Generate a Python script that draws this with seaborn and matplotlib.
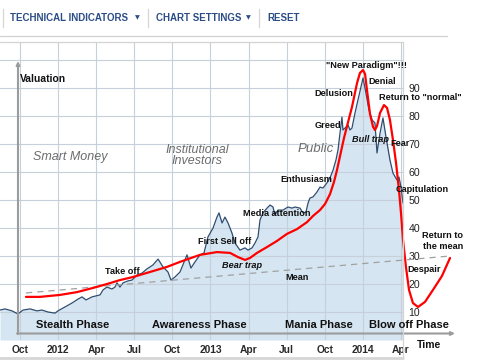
import matplotlib
matplotlib.use("Agg")
import matplotlib.pyplot as plt
from matplotlib.lines import Line2D
import numpy as np
import pandas as pd
import seaborn as sns

# ---------------- data (x = months since Oct 2011, y = valuation) ----------------
price_month = [-1.57, -1.18, -0.63, -0.16, 0.24, 0.79, 1.34, 1.73, 2.20, 2.76, 2.99, 3.54,
               4.09, 4.57, 4.88, 5.20, 5.67, 6.30, 6.54, 6.85, 7.24, 7.48, 7.64, 7.87,
               8.11, 8.50, 8.82, 9.21, 9.61, 10.0, 10.47, 10.87, 11.26, 11.65, 11.89, 12.20,
               12.60, 13.15, 13.46, 13.78, 14.17, 14.49, 14.80, 15.20, 15.51, 15.67, 15.91, 16.14,
               16.38, 16.69, 16.93, 17.32, 17.72, 17.95, 18.27, 18.50, 18.74, 18.90, 19.13, 19.45,
               19.69, 19.92, 20.08, 20.31, 20.71, 21.10, 21.42, 21.65, 22.05, 22.28, 22.52, 22.68,
               22.83, 23.07, 23.39, 23.62, 23.86, 24.17, 24.41, 24.65, 24.88, 25.04, 25.20, 25.35,
               25.43, 25.59, 25.83, 25.98, 26.14, 26.38, 26.61, 27.01, 27.24, 27.48, 27.72, 27.95,
               28.11, 28.35, 28.58, 28.82, 29.13, 29.37, 29.69, 29.84, 30.0, 30.16]
price_value = [10.7, 11.1, 10.4, 9.3, 10.7, 11.1, 10.4, 10.7, 10.0, 9.6, 10.4, 11.8,
               13.2, 14.6, 15.4, 14.3, 15.4, 16.1, 17.9, 18.9, 18.2, 18.9, 20.4, 18.9,
               20.4, 21.1, 21.4, 23.2, 23.9, 25.4, 26.8, 28.9, 26.1, 24.3, 21.4, 22.5,
               24.3, 30.4, 25.7, 27.9, 30.4, 31.1, 36.8, 40.0, 43.9, 45.4, 41.8, 43.9,
               41.8, 38.2, 34.6, 32.1, 32.9, 32.1, 32.9, 34.6, 36.8, 42.9, 45.4, 47.1,
               48.2, 47.5, 44.6, 46.4, 46.4, 47.5, 47.1, 47.5, 47.1, 45.4, 45.7, 48.9,
               50.7, 51.1, 52.9, 54.6, 54.3, 56.1, 57.9, 60.7, 64.3, 67.9, 74.0, 79.6,
               75.0, 75.7, 76.8, 75.0, 75.7, 81.1, 85.7, 93.6, 88.2, 82.1, 78.6, 77.5,
               66.8, 73.9, 79.3, 72.5, 64.3, 59.6, 57.1, 58.2, 54.6, 48.9]

cycle_month = [0.47, 1.57, 3.15, 4.49, 5.75, 6.85, 7.87, 8.90, 10.24, 11.57, 12.60, 14.17,
               15.51, 16.54, 17.17, 17.72, 18.11, 18.66, 19.45, 20.24, 21.02, 21.81, 22.60, 23.07,
               23.62, 24.02, 24.41, 24.72, 24.96, 25.20, 25.51, 25.75, 26.14, 26.54, 26.77, 27.01,
               27.17, 27.32, 27.56, 27.80, 27.95, 28.11, 28.35, 28.66, 28.90, 29.13, 29.37, 29.61,
               29.84, 30.0, 30.16, 30.39, 30.63, 30.94, 31.34, 31.89, 32.52, 33.23, 33.86]
cycle_value = [15.4, 15.4, 16.1, 17.1, 18.6, 20.0, 21.4, 22.5, 24.3, 26.1, 27.9, 30.4,
               31.4, 31.1, 29.6, 28.6, 29.3, 31.1, 33.2, 35.4, 37.9, 39.6, 42.1, 44.3,
               46.4, 48.6, 52.1, 56.4, 60.7, 65.7, 72.1, 76.4, 83.2, 91.8, 95.4, 96.4,
               95.0, 89.3, 80.7, 76.1, 75.0, 76.4, 81.1, 83.9, 82.9, 78.6, 71.4, 63.2,
               53.6, 45.4, 35.7, 26.1, 17.9, 13.2, 11.8, 13.6, 17.9, 22.9, 29.3]

mean_month = [0.47, 33.86]
mean_value = [16.8, 30.0]

x_tick_months = [0, 3, 6, 9, 12, 15, 18, 21, 24, 27, 30]
x_tick_labels = ["Oct", "2012", "Apr", "Jul", "Oct", "2013", "Apr", "Jul", "Oct", "2014", "Apr"]
y_tick_values = [10, 20, 30, 40, 50, 60, 70, 80, 90, 100]
y_tick_labels = ["10", "20", "30", "40", "50", "60", "70", "80", "90", ""]

# ---------------- figure ----------------
sns.set_theme(style="white")
plt.rcParams['font.family'] = ['Liberation Sans', 'DejaVu Sans']

W, H = 500, 364
fig = plt.figure(figsize=(5, 3.64), dpi=100)
fig.patch.set_facecolor("white")


def fx(x):
    return x / W


def fy(y):
    return 1 - y / H


ax = fig.add_axes([0, fy(340), fx(403), fy(42) - fy(340)])
ax.set_facecolor("white")
ax.set_xlim(-20 / 12.7, 383 / 12.7)
ax.set_ylim(0, 298 / 2.8)

price = pd.DataFrame({"month": price_month, "value": price_value})
cycle = pd.DataFrame({"month": cycle_month, "value": cycle_value})
mean = pd.DataFrame({"month": mean_month, "value": mean_value})

ax.fill_between(price["month"], price["value"], 0, color="#d5e5f1", lw=0, zorder=1)
sns.lineplot(data=price, x="month", y="value", ax=ax, color="#2f4d70", lw=0.9, zorder=3)
sns.lineplot(data=mean, x="month", y="value", ax=ax, color="#a0a0a0", lw=0.9,
             dashes=False, linestyle=(0, (5, 4)), zorder=3, clip_on=False)
sns.lineplot(data=cycle, x="month", y="value", ax=ax, color="#ff0000", lw=1.6,
             zorder=4, clip_on=False, solid_joinstyle="round", solid_capstyle="round")

ax.set_xticks(x_tick_months)
ax.set_xticklabels(x_tick_labels)
ax.set_yticks(y_tick_values)
ax.set_yticklabels(y_tick_labels)
ax.yaxis.tick_right()
ax.grid(True, color="#c6d0da", lw=0.8)
ax.set_axisbelow("line")
ax.tick_params(axis="x", length=0, pad=3.5, labelsize=7.4, labelcolor="#2a2a2a")
ax.tick_params(axis="y", length=0, pad=4, labelsize=7.6, labelcolor="#222222")
for lbl in ax.get_xticklabels():
    lbl.set_fontweight("bold")
ax.set_xlabel("")
ax.set_ylabel("")
for s in ax.spines.values():
    s.set_visible(False)

# frame / toolbar decorations
def hline(x0, x1, y, color, lw):
    fig.add_artist(Line2D([fx(x0), fx(x1)], [fy(y), fy(y)], color=color, lw=lw))


def vline(x, y0, y1, color, lw):
    fig.add_artist(Line2D([fx(x), fx(x)], [fy(y0), fy(y1)], color=color, lw=lw))


hline(0, 403, 42, "#d4d4d4", 0.9)
vline(403, 42, 357, "#d4d4d4", 0.9)
hline(0, 403, 357.5, "#d6d6d6", 2.0)
hline(0, 447, 36, "#d0d0d0", 0.9)
for sx in [3, 148, 259]:
    vline(sx, 9, 27, "#d6d6d6", 0.9)

blue = "#2b4d86"
fig.text(fx(10), fy(18), "TECHNICAL INDICATORS", fontsize=7, fontweight="bold",
         color=blue, ha="left", va="center")
fig.text(fx(137), fy(18), "\u25bc", fontsize=4.5, color=blue, ha="center", va="center",
         family=["DejaVu Sans"])
fig.text(fx(156), fy(18), "CHART SETTINGS", fontsize=7, fontweight="bold",
         color=blue, ha="left", va="center")
fig.text(fx(248), fy(18), "\u25bc", fontsize=4.5, color=blue, ha="center", va="center",
         family=["DejaVu Sans"])
fig.text(fx(267), fy(18), "RESET", fontsize=7, fontweight="bold",
         color=blue, ha="left", va="center")

# axis arrows
arrow = dict(arrowstyle="-|>", color="#9c9c9c", lw=1.5, mutation_scale=5,
             shrinkA=0, shrinkB=0)
ax.annotate("", xy=(18, H - 61), xytext=(18, H - 334), xycoords="figure pixels",
            textcoords="figure pixels", arrowprops=arrow, annotation_clip=False)
ax.annotate("", xy=(455, H - 333.5), xytext=(17, H - 333.5), xycoords="figure pixels",
            textcoords="figure pixels", arrowprops=arrow, annotation_clip=False)


def label(x, y, s, size=6.6, weight="bold", style="normal", color="#111111", ha="center",
          **kw):
    fig.text(fx(x), fy(y), s, fontsize=size, fontweight=weight, fontstyle=style,
             color=color, ha=ha, va="center", **kw)


label(20, 79, "Valuation", size=7.4, ha="left")
label(429, 345, "Time", size=7.5)

grey = "#6c6c6c"
label(70, 157, "Smart Money", size=9, weight="normal", style="italic", color=grey)
label(197, 155.5, "Institutional\nInvestors", size=9, weight="normal", style="italic",
      color=grey, linespacing=0.95)
label(316, 149, "Public", size=9.5, weight="normal", style="italic", color=grey)

label(122, 272, "Take off")
label(225, 242, "First Sell off")
label(242, 265, "Bear trap", style="italic")
label(277, 213, "Media attention")
label(297, 277, "Mean")
label(306, 180, "Enthusiasm")
label(328, 126, "Greed")
label(334, 93, "Delusion")
label(366, 65, "\"New Paradigm\"!!!")
label(382, 82, "Denial")
label(420, 98, "Return to \"normal\"")
label(371, 139, "Bull trap", style="italic")
label(400, 144, "Fear")
label(422, 190, "Capitulation")
label(443, 241, "Return to\nthe mean", linespacing=1.2)
label(424, 269, "Despair")

for px_, name in [(73, "Stealth Phase"), (199, "Awareness Phase"),
                  (319, "Mania Phase"), (409, "Blow off Phase")]:
    label(px_, 325, name, size=8)

fig.savefig("out.png", dpi=100, facecolor="white")
